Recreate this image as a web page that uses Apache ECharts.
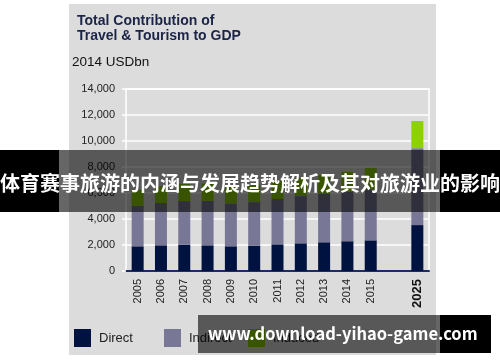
<!DOCTYPE html>
<html><head><meta charset="utf-8">
<script src="https://cdn.jsdelivr.net/npm/echarts@6/dist/echarts.min.js"></script>
<style>html,body{margin:0;padding:0;background:#fff}#c{width:500px;height:362px}</style>
</head><body><div id="c"></div>
<script>
const categories = ['2005','2006','2007','2008','2009','2010','2011','2012','2013','2014','2015','','2025'];
const direct   = [1900, 1975, 2025, 1975, 1900, 1950, 2050, 2130, 2210, 2290, 2360, null, 3530];
const indirect = [3120, 3255, 3355, 3425, 3300, 3350, 3490, 3630, 3720, 3810, 3920, null, 5920];
const induced  = [1230, 1290, 1320, 1320, 1270, 1300, 1360, 1400, 1470, 1520, 1650, null, 2090];
const yTicks = [0, 2000, 4000, 6000, 8000, 10000, 12000, 14000];
const titleText = 'Total Contribution of\nTravel & Tourism to GDP';
const unitText = '2014 USDbn';
const bannerText = '体育赛事旅游的内涵与发展趋势解析及其对旅游业的影响';
const watermarkText = 'www.download-yihao-game.com';

const chart = echarts.init(document.getElementById('c'), null, {renderer:'canvas'});
const legendBase = {orient:'horizontal', top:329, itemWidth:17, itemHeight:18, padding:0, icon:'rect',
  textStyle:{fontFamily:'Liberation Sans, Arial', fontSize:13, color:'#222', padding:[0,0,0,3]}, selectedMode:false};
chart.setOption({
  animation:false,
  title:[
    {text:titleText, left:77, top:13, padding:0, textStyle:{fontFamily:'Liberation Sans, Arial', fontSize:14, fontWeight:'bold', color:'#1b2447', lineHeight:15.5}},
    {text:unitText, left:72, top:55, padding:0, textStyle:{fontFamily:'Liberation Sans, Arial', fontSize:13.5, fontWeight:'normal', color:'#111'}}
  ],
  legend:[
    Object.assign({}, legendBase, {left:74, data:['Direct']}),
    Object.assign({}, legendBase, {left:164, data:['Indirect']}),
    Object.assign({}, legendBase, {left:248, data:['Induced']})
  ],
  grid:{left:126, right:71, top:89, bottom:91, containLabel:false, outerBoundsMode:'none', show:true, borderColor:'#fff', borderWidth:1.5, backgroundColor:'transparent'},
  xAxis:{type:'category', data:categories,
    axisLine:{show:true, lineStyle:{color:'#1c2a6e', width:2}}, axisTick:{show:false},
    axisLabel:{rotate:90, interval:0, margin:8, fontFamily:'Liberation Sans, Arial', fontSize:11, color:'#222',
      formatter:v => v==='2025' ? '{b|'+v+'}' : v,
      rich:{b:{fontWeight:'bold', fontSize:13, color:'#111', fontFamily:'Liberation Sans, Arial'}}}},
  yAxis:{type:'value', min:yTicks[0], max:yTicks[yTicks.length-1], interval:2000,
    axisLine:{show:false}, axisTick:{show:true, length:4, lineStyle:{color:'#fff', width:1.5}},
    splitLine:{show:true, lineStyle:{color:'#fff', width:1.5}},
    axisLabel:{margin:11, fontFamily:'Liberation Sans, Arial', fontSize:11, color:'#222', formatter:v => v.toLocaleString('en-US')}},
  series:[
    {name:'Direct', type:'bar', stack:'t', data:direct, barWidth:12, itemStyle:{color:'#00123f'}},
    {name:'Indirect', type:'bar', stack:'t', data:indirect, barWidth:12, itemStyle:{color:'#797796'}},
    {name:'Induced', type:'bar', stack:'t', data:induced, barWidth:12, itemStyle:{color:'#8dd100'}}
  ],
  graphic:[
    {type:'rect', z:-100, silent:true, shape:{x:69, y:4, width:367, height:351}, style:{fill:'#dcdcdc'}},
    {type:'rect', z:100, silent:true, shape:{x:0, y:150, width:59, height:62}, style:{fill:'#000'}},
    {type:'rect', z:100, silent:true, shape:{x:59, y:150, width:381, height:62}, style:{fill:'rgba(0,0,0,0.6)'}},
    {type:'rect', z:100, silent:true, shape:{x:440, y:150, width:60, height:62}, style:{fill:'#000'}},
    {type:'text', z:101, silent:true, x:250, y:183, style:{text:bannerText, fill:'#fff', font:'bold 20px "Noto Sans CJK SC"', textAlign:'center', textVerticalAlign:'middle'}},
    {type:'rect', z:100, silent:true, shape:{x:198, y:315, width:242, height:38}, style:{fill:'rgba(0,0,0,0.6)'}},
    {type:'rect', z:100, silent:true, shape:{x:440, y:315, width:51, height:38}, style:{fill:'#000'}},
    {type:'text', z:101, silent:true, x:208, y:334, style:{text:watermarkText, fill:'#fff', font:'bold 16.5px "Noto Sans CJK SC"', textAlign:'left', textVerticalAlign:'middle'}}
  ]
});
</script></body></html>
